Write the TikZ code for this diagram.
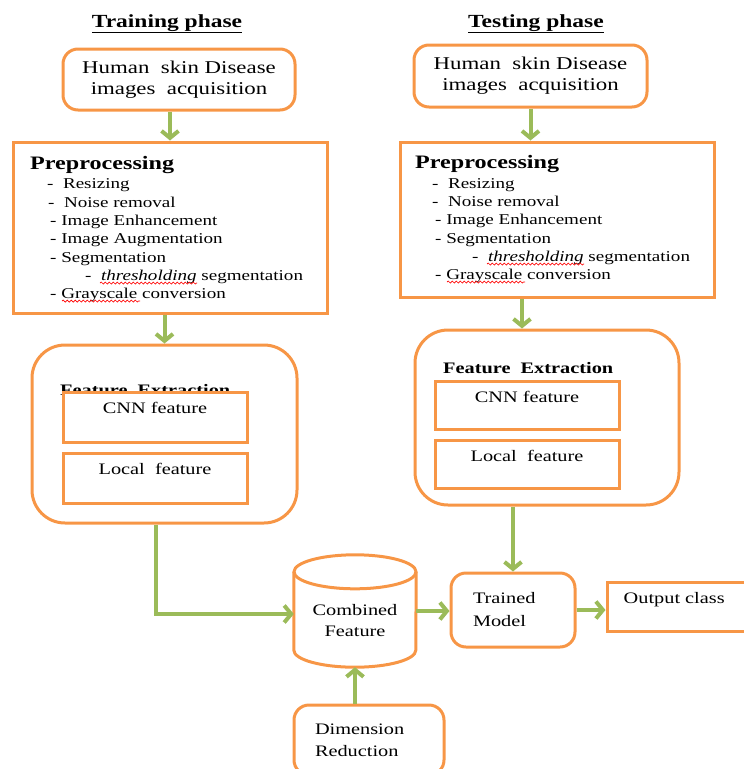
\documentclass[tikz,border=0pt]{standalone}
\usepackage{fontspec}
\setmainfont[FakeStretch=1.27]{Liberation Serif}
\usetikzlibrary{arrows.meta,positioning,decorations.pathmorphing}
\definecolor{boxorange}{RGB}{247,150,70}
\definecolor{flowgreen}{RGB}{155,187,89}
\tikzset{
  sbox/.style={draw=boxorange, line width=3pt, fill=white, inner sep=0pt},
  rbox/.style={sbox, rounded corners=15pt},
  flow/.style={draw=flowgreen, line width=4pt, -{Straight Barb[length=7pt,width=17pt]}},
  item/.style={anchor=base west, inner sep=0pt, font=\fontsize{15}{16}\selectfont},
  head/.style={anchor=base west, inner sep=0pt, font=\fontsize{19}{20}\selectfont\bfseries},
  fhead/.style={anchor=base west, inner sep=0pt, font=\fontsize{16}{18}\selectfont\bfseries},
  phase/.style={anchor=base, inner sep=0pt, font=\fontsize{18.5}{20}\selectfont\bfseries},
  btext/.style={font=\fontsize{18}{21}\selectfont, align=center},
  ftext/.style={inner sep=0pt, font=\fontsize{16}{21}\selectfont},
  spell/.style={draw=red, line width=.7pt, decorate, decoration={snake, amplitude=1pt, segment length=4pt}},
}
\begin{document}
\begin{tikzpicture}[x=1pt,y=-1pt]
\useasboundingbox (0,0) rectangle (744,769);
% titles
\node[phase] (trainT) at (167,27) {\underline{Training phase}};
\node[phase] (testT) at (536,27) {\underline{Testing phase}};
% acquisition
\node[rbox, btext, minimum width=232, minimum height=61] (acqA) at (179,79.5) {Human\ \ skin Disease\\images\ \ acquisition};
\node[rbox, btext, minimum width=233, minimum height=62] (acqB) at (530.5,76) {Human\ \ skin Disease\\images\ \ acquisition};
% preprocessing, training
\node[sbox, minimum width=314, minimum height=171] (preA) at (170,227.5) {};
\node[head] (preAh) at (30,169.5) {Preprocessing};
\node[item] (resA) at (47,188) {-\ \ Resizing};
\node[item] (noiA) at (48,207) {-\ \ Noise removal};
\node[item] (enhA) at (50,225) {- Image Enhancement};
\node[item] (augA) at (50,243) {- Image Augmentation};
\node[item] (segA) at (50,262) {- Segmentation};
\node[item] (thrA) at (85,280) {-\ \ \textit{thresholding} segmentation};
\node[item] (grayA) at (50,298) {- Grayscale conversion};
\draw[spell] ([xshift=15pt,yshift=-3pt]thrA.base west) -- ++(97,0);
\draw[spell] ([xshift=12pt,yshift=-3pt]grayA.base west) -- ++(78,0);
% preprocessing, testing
\node[sbox, minimum width=314, minimum height=155] (preB) at (557,219.5) {};
\node[head] (preBh) at (415,168) {Preprocessing};
\node[item] (resB) at (432,188) {-\ \ Resizing};
\node[item] (noiB) at (432,206) {-\ \ Noise removal};
\node[item] (enhB) at (435,224) {- Image Enhancement};
\node[item] (segB) at (435,243) {- Segmentation};
\node[item] (thrB) at (472,261) {-\ \ \textit{thresholding} segmentation};
\node[item] (grayB) at (435,279) {- Grayscale conversion};
\draw[spell] ([xshift=15pt,yshift=-3pt]thrB.base west) -- ++(97,0);
\draw[spell] ([xshift=12pt,yshift=-3pt]grayB.base west) -- ++(78,0);
% feature extraction, training
\node[sbox, rounded corners=33pt, minimum width=265, minimum height=178] (featA) at (164.5,434) {};
\node[fhead] (featAh) at (60,395) {Feature\ \ Extraction};
\node[sbox, minimum width=184, minimum height=50] (cnnA) at (155,417) {};
\node[ftext, anchor=base] (cnnAt) at ([yshift=-23pt]cnnA.north) {CNN feature};
\node[sbox, minimum width=184, minimum height=50] (locA) at (155,478) {};
\node[ftext, anchor=base] (locAt) at ([yshift=-23pt]locA.north) {Local\ \ feature};
% feature extraction, testing
\node[sbox, rounded corners=33pt, minimum width=264, minimum height=175] (featB) at (547,417.5) {};
\node[fhead] (featBh) at (443,373) {Feature\ \ Extraction};
\node[sbox, minimum width=184, minimum height=48] (cnnB) at (527,405) {};
\node[ftext, anchor=base] (cnnBt) at ([yshift=-23pt]cnnB.north) {CNN feature};
\node[sbox, minimum width=184, minimum height=48] (locB) at (527,464) {};
\node[ftext, anchor=base] (locBt) at ([yshift=-23pt]locB.north) {Local\ \ feature};
% combined feature (cylinder)
\node[minimum width=122, minimum height=112, inner sep=0pt] (comb) at (355,611) {};
\draw[boxorange, line width=3pt] ([yshift=-17pt]comb.north west) -- ([yshift=17pt]comb.south west)
  arc[start angle=180, end angle=0, x radius=61, y radius=17] -- ([yshift=-17pt]comb.north east);
\draw[boxorange, line width=3pt] ([yshift=-17pt]comb.north) ellipse[x radius=61, y radius=17];
\node[ftext, align=center] (combt) at ([yshift=-10pt]comb.center) {Combined\\Feature};
% model and output
\node[rbox, ftext, font=\fontsize{16}{23}\selectfont, text width=80, align=left, minimum width=124, minimum height=74] (model) at (513,610) {Trained\\Model};
\node[sbox, minimum width=150, minimum height=49] (out) at (682,606.5) {};
\node[ftext, anchor=base west] (outt) at ([xshift=18pt,yshift=-23pt]out.north west) {Output class};
\node[rbox, ftext, font=\fontsize{16}{22}\selectfont, text width=108, align=left, minimum width=150, minimum height=70] (dim) at (369,740) {Dimension\\Reduction};
% arrows
\coordinate (bend) at (156,614);
\draw[flow] (acqA.south -| preA.north) -- (preA.north);
\draw[flow] (acqB.south) -- (acqB.south |- preB.north);
\draw[flow] (preA.south -| featA.north) -- (featA.north);
\draw[flow] ([xshift=-35pt]preB.south) -- ([xshift=-35pt]preB.south |- featB.north);
\draw[flow] (featB.south -| model.north) -- (model.north);
\draw[flow] (featA.south -| bend) -- (bend) -- (bend -| comb.west);
\draw[flow] (comb.east) -- (comb.east -| model.west);
\draw[flow] (model.east) -- (model.east -| out.west);
\draw[flow] (comb.south |- dim.north) -- (comb.south);
\end{tikzpicture}
\end{document}
